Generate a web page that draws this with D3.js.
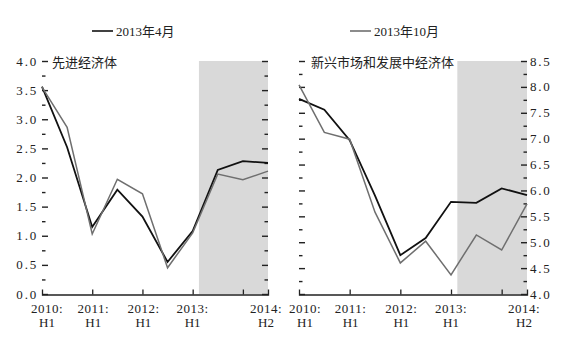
<!DOCTYPE html>
<html>
<head>
<meta charset="utf-8">
<script src="https://cdn.jsdelivr.net/npm/d3@7"></script>
<style>
  html, body { margin: 0; padding: 0; background: #fff; }
  svg { display: block; }
  text { font-family: "Liberation Serif", "Noto Sans CJK SC", serif; fill: #222; }
</style>
</head>
<body>
<svg id="chart" width="566" height="338"></svg>
<script>
// Half-year periods on the x axis
const periods = ["2010:H1", "2010:H2", "2011:H1", "2011:H2", "2012:H1",
                 "2012:H2", "2013:H1", "2013:H2", "2014:H1", "2014:H2"];

// Period labels shown under the axis (two lines each)
const xLabelIdx = [0, 2, 4, 6, 9];
const xLabelTop = ["2010:", "2011:", "2012:", "2013:", "2014:"];
const xLabelBottom = ["H1", "H1", "H1", "H1", "H2"];
const xTickIdx = [2, 4, 6, 8];

// Start of the forecast (shaded) period, in period units
const forecastStart = 6.25;

// Series names
const seriesNames = ["2013年4月", "2013年10月"];

// Advanced economies (left panel)
const advApr = [3.56, 2.52, 1.15, 1.79, 1.33, 0.55, 1.08, 2.13, 2.28, 2.25];
const advOct = [3.55, 2.86, 1.03, 1.97, 1.72, 0.45, 1.05, 2.06, 1.96, 2.11];

// Emerging market and developing economies (right panel)
const emdApr = [7.77, 7.56, 6.97, 5.90, 4.75, 5.08, 5.78, 5.76, 6.04, 5.91];
const emdOct = [8.04, 7.12, 6.99, 5.58, 4.60, 5.02, 4.37, 5.14, 4.85, 5.74];

// Y axis ticks
const leftTicks = [0, 0.5, 1.0, 1.5, 2.0, 2.5, 3.0, 3.5, 4.0];
const rightTicks = [4.0, 4.5, 5.0, 5.5, 6.0, 6.5, 7.0, 7.5, 8.0, 8.5];

const svg = d3.select("#chart");
const colors = ["#111111", "#6f6f6f"];
const widths = [1.8, 1.5];

function panel(opts) {
  const g = svg.append("g");
  const x = d3.scaleLinear().domain([0, periods.length - 1]).range(opts.xRange);
  const y = d3.scaleLinear().domain(opts.yDomain).range([294, 61]);
  const [y0, y1] = opts.yDomain;
  const minor = d3.range(y0 + 0.25, y1, 0.5);

  // forecast shading
  g.append("rect")
    .attr("x", x(forecastStart))
    .attr("y", y(y1))
    .attr("width", x(periods.length - 1) - x(forecastStart))
    .attr("height", y(y0) - y(y1))
    .attr("fill", "#d9d9d9");

  function vAxis(xpos, side, labels) {
    // side: +1 ticks point right, -1 ticks point left
    const a = g.append("g").attr("transform", `translate(${xpos},0)`);
    a.selectAll("line.major").data(opts.ticks).join("line")
      .attr("class", "major")
      .attr("x1", 0).attr("x2", side * 6)
      .attr("y1", d => y(d) + 0.5).attr("y2", d => y(d) + 0.5)
      .attr("stroke", "#222").attr("stroke-width", 1.4);
    a.selectAll("line.minor").data(minor).join("line")
      .attr("class", "minor")
      .attr("x1", 0).attr("x2", side * 3.5)
      .attr("y1", d => y(d) + 0.5).attr("y2", d => y(d) + 0.5)
      .attr("stroke", "#222").attr("stroke-width", 1.4);
    if (labels) {
      a.selectAll("text").data(opts.ticks).join("text")
        .attr("x", side > 0 ? -4 : 3)
        .attr("y", d => y(d))
        .attr("dy", "0.35em")
        .attr("text-anchor", side > 0 ? "end" : "start")
        .attr("font-size", 13)
        .style("letter-spacing", "1.8px")
        .text(d => d3.format(".1f")(d).replace(".", "."));
    }
  }

  vAxis(opts.xRange[0], 1, opts.leftLabels);
  vAxis(opts.xRange[1], -1, opts.rightLabels);

  // bottom axis
  const xAxis = d3.axisBottom(x)
    .tickValues(xTickIdx)
    .tickSizeInner(-5)
    .tickSizeOuter(-5)
    .tickFormat("");
  const ax = g.append("g").attr("transform", `translate(0,${y(y0) + 0.5})`).call(xAxis);
  ax.select(".domain").attr("stroke", "#222").attr("stroke-width", 1.3);
  ax.selectAll(".tick line").attr("stroke", "#222").attr("stroke-width", 1.3);

  // period labels
  const lab = g.append("g");
  xLabelIdx.forEach((idx, i) => {
    const cx = x(idx) + opts.labelShift[i];
    lab.append("text").attr("x", cx).attr("y", 313)
      .attr("text-anchor", "middle").attr("font-size", 13)
      .style("letter-spacing", "0.5px")
      .text(xLabelTop[i]);
    lab.append("text").attr("x", cx).attr("y", 327)
      .attr("text-anchor", "middle").attr("font-size", 13)
      .text(xLabelBottom[i]);
  });

  // series lines
  const line = d3.line().x((d, i) => x(i)).y(d => y(d));
  opts.series.forEach((s, k) => {
    g.append("path").datum(s)
      .attr("d", line)
      .attr("fill", "none")
      .attr("stroke", colors[k])
      .attr("stroke-width", widths[k])
      .attr("stroke-linejoin", "miter");
  });

  // panel title
  g.append("text")
    .attr("x", opts.titleX).attr("y", 62).attr("dy", "0.35em")
    .attr("font-size", 13)
    .style("font-family", "'Noto Sans CJK SC', sans-serif")
    .text(opts.title);

  // legend entry
  g.append("line")
    .attr("x1", opts.legendX).attr("x2", opts.legendX + 21)
    .attr("y1", 31).attr("y2", 31)
    .attr("stroke", colors[opts.legendIdx]).attr("stroke-width", 1.6);
  g.append("text")
    .attr("x", opts.legendX + 24).attr("y", 31).attr("dy", "0.35em")
    .attr("font-size", 13)
    .text(seriesNames[opts.legendIdx]);
}

panel({
  xRange: [42, 268],
  yDomain: [0, 4],
  ticks: leftTicks,
  leftLabels: true,
  rightLabels: false,
  labelShift: [5, 1, 1, 0, -2],
  series: [advApr, advOct],
  title: "先进经济体",
  titleX: 52,
  legendX: 92,
  legendIdx: 0
});

panel({
  xRange: [299, 527],
  yDomain: [4, 8.5],
  ticks: rightTicks,
  leftLabels: false,
  rightLabels: true,
  labelShift: [6, 1, 1, 0, -3],
  series: [emdApr, emdOct],
  title: "新兴市场和发展中经济体",
  titleX: 311,
  legendX: 350,
  legendIdx: 1
});
</script>
</body>
</html>
